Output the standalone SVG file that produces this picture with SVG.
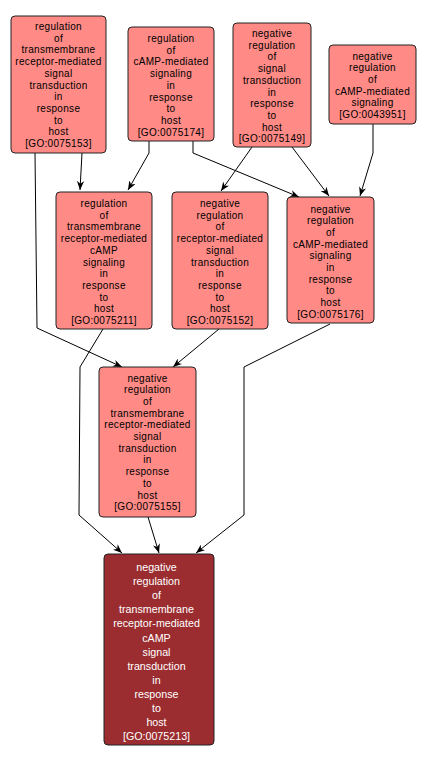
<svg xmlns="http://www.w3.org/2000/svg" width="427" height="764" viewBox="0 0 427 764">
<defs>
<style>
.n rect{fill:#ff8a86;stroke:#222;stroke-width:1}
.n text{font-family:"Liberation Sans",Arial,sans-serif;font-size:10px;letter-spacing:0.3px;fill:#000;text-anchor:middle}
.d rect{fill:#9b2d30;stroke:#222;stroke-width:1}
.d text{font-family:"Liberation Sans",Arial,sans-serif;font-size:10.7px;fill:#fff;text-anchor:middle}
.e polyline{fill:none;stroke:#000;stroke-width:1;marker-end:url(#ah)}
</style>
<marker id="ah" viewBox="0 0 10 8" refX="10" refY="4" markerWidth="9" markerHeight="7.2" markerUnits="userSpaceOnUse" orient="auto">
<path d="M0,0 L10,4 L0,8 L3,4 z" fill="#000"/>
</marker>
</defs>
<rect width="427" height="764" fill="#fff"/>
<g id="edges" class="e">
<polyline points="82,153 80,190"/>
<polyline points="35,153 37,328 122,367"/>
<polyline points="149,141 149,153 128,190"/>
<polyline points="193,141 193,153 299,197"/>
<polyline points="252,147 221,191"/>
<polyline points="292,147 329,196"/>
<polyline points="373,124 373,153 360,196"/>
<polyline points="103,329 80,367 79,515 122,553"/>
<polyline points="219,329 173,367"/>
<polyline points="330,324 244,367 244,515 196,553"/>
<polyline points="148,517 159,553"/>
</g>
<g id="GO0075153" class="n">
<rect x="11" y="16" width="95" height="137" rx="4"/>
<text y="30"><tspan x="58.5">regulation</tspan><tspan x="58.5" dy="11.7">of</tspan><tspan x="58.5" dy="11.7">transmembrane</tspan><tspan x="58.5" dy="11.7">receptor-mediated</tspan><tspan x="58.5" dy="11.7">signal</tspan><tspan x="58.5" dy="11.7">transduction</tspan><tspan x="58.5" dy="11.7">in</tspan><tspan x="58.5" dy="11.7">response</tspan><tspan x="58.5" dy="11.7">to</tspan><tspan x="58.5" dy="11.7">host</tspan><tspan x="58.5" dy="11.7">[GO:0075153]</tspan></text>
</g>
<g id="GO0075174" class="n">
<rect x="128" y="27" width="86" height="114" rx="4"/>
<text y="42"><tspan x="171">regulation</tspan><tspan x="171" dy="11.7">of</tspan><tspan x="171" dy="11.7">cAMP-mediated</tspan><tspan x="171" dy="11.7">signaling</tspan><tspan x="171" dy="11.7">in</tspan><tspan x="171" dy="11.7">response</tspan><tspan x="171" dy="11.7">to</tspan><tspan x="171" dy="11.7">host</tspan><tspan x="171" dy="11.7">[GO:0075174]</tspan></text>
</g>
<g id="GO0075149" class="n">
<rect x="233" y="23" width="78" height="124" rx="4"/>
<text y="37"><tspan x="272">negative</tspan><tspan x="272" dy="11.7">regulation</tspan><tspan x="272" dy="11.7">of</tspan><tspan x="272" dy="11.7">signal</tspan><tspan x="272" dy="11.7">transduction</tspan><tspan x="272" dy="11.7">in</tspan><tspan x="272" dy="11.7">response</tspan><tspan x="272" dy="11.7">to</tspan><tspan x="272" dy="11.7">host</tspan><tspan x="272" dy="11.7">[GO:0075149]</tspan></text>
</g>
<g id="GO0043951" class="n">
<rect x="329" y="45" width="87" height="79" rx="4"/>
<text y="59.5"><tspan x="372.5">negative</tspan><tspan x="372.5" dy="11.7">regulation</tspan><tspan x="372.5" dy="11.7">of</tspan><tspan x="372.5" dy="11.7">cAMP-mediated</tspan><tspan x="372.5" dy="11.7">signaling</tspan><tspan x="372.5" dy="11.7">[GO:0043951]</tspan></text>
</g>
<g id="GO0075211" class="n">
<rect x="56" y="192" width="96" height="137" rx="4"/>
<text y="207"><tspan x="104">regulation</tspan><tspan x="104" dy="11.7">of</tspan><tspan x="104" dy="11.7">transmembrane</tspan><tspan x="104" dy="11.7">receptor-mediated</tspan><tspan x="104" dy="11.7">cAMP</tspan><tspan x="104" dy="11.7">signaling</tspan><tspan x="104" dy="11.7">in</tspan><tspan x="104" dy="11.7">response</tspan><tspan x="104" dy="11.7">to</tspan><tspan x="104" dy="11.7">host</tspan><tspan x="104" dy="11.7">[GO:0075211]</tspan></text>
</g>
<g id="GO0075152" class="n">
<rect x="172" y="192" width="96" height="137" rx="4"/>
<text y="207"><tspan x="220">negative</tspan><tspan x="220" dy="11.7">regulation</tspan><tspan x="220" dy="11.7">of</tspan><tspan x="220" dy="11.7">receptor-mediated</tspan><tspan x="220" dy="11.7">signal</tspan><tspan x="220" dy="11.7">transduction</tspan><tspan x="220" dy="11.7">in</tspan><tspan x="220" dy="11.7">response</tspan><tspan x="220" dy="11.7">to</tspan><tspan x="220" dy="11.7">host</tspan><tspan x="220" dy="11.7">[GO:0075152]</tspan></text>
</g>
<g id="GO0075176" class="n">
<rect x="287" y="197" width="87" height="126" rx="4"/>
<text y="212.5"><tspan x="330.5">negative</tspan><tspan x="330.5" dy="11.7">regulation</tspan><tspan x="330.5" dy="11.7">of</tspan><tspan x="330.5" dy="11.7">cAMP-mediated</tspan><tspan x="330.5" dy="11.7">signaling</tspan><tspan x="330.5" dy="11.7">in</tspan><tspan x="330.5" dy="11.7">response</tspan><tspan x="330.5" dy="11.7">to</tspan><tspan x="330.5" dy="11.7">host</tspan><tspan x="330.5" dy="11.7">[GO:0075176]</tspan></text>
</g>
<g id="GO0075155" class="n">
<rect x="99" y="367" width="97" height="150" rx="4"/>
<text y="381.5"><tspan x="147.5">negative</tspan><tspan x="147.5" dy="11.7">regulation</tspan><tspan x="147.5" dy="11.7">of</tspan><tspan x="147.5" dy="11.7">transmembrane</tspan><tspan x="147.5" dy="11.7">receptor-mediated</tspan><tspan x="147.5" dy="11.7">signal</tspan><tspan x="147.5" dy="11.7">transduction</tspan><tspan x="147.5" dy="11.7">in</tspan><tspan x="147.5" dy="11.7">response</tspan><tspan x="147.5" dy="11.7">to</tspan><tspan x="147.5" dy="11.7">host</tspan><tspan x="147.5" dy="11.7">[GO:0075155]</tspan></text>
</g>
<g id="GO0075213" class="d">
<rect x="104" y="554" width="110" height="191" rx="4"/>
<text y="571"><tspan x="156.5">negative</tspan><tspan x="156.5" dy="14.1">regulation</tspan><tspan x="156.5" dy="14.1">of</tspan><tspan x="156.5" dy="14.1">transmembrane</tspan><tspan x="156.5" dy="14.1">receptor-mediated</tspan><tspan x="156.5" dy="14.1">cAMP</tspan><tspan x="156.5" dy="14.1">signal</tspan><tspan x="156.5" dy="14.1">transduction</tspan><tspan x="156.5" dy="14.1">in</tspan><tspan x="156.5" dy="14.1">response</tspan><tspan x="156.5" dy="14.1">to</tspan><tspan x="156.5" dy="14.1">host</tspan><tspan x="156.5" dy="14.1">[GO:0075213]</tspan></text>
</g>
</svg>
